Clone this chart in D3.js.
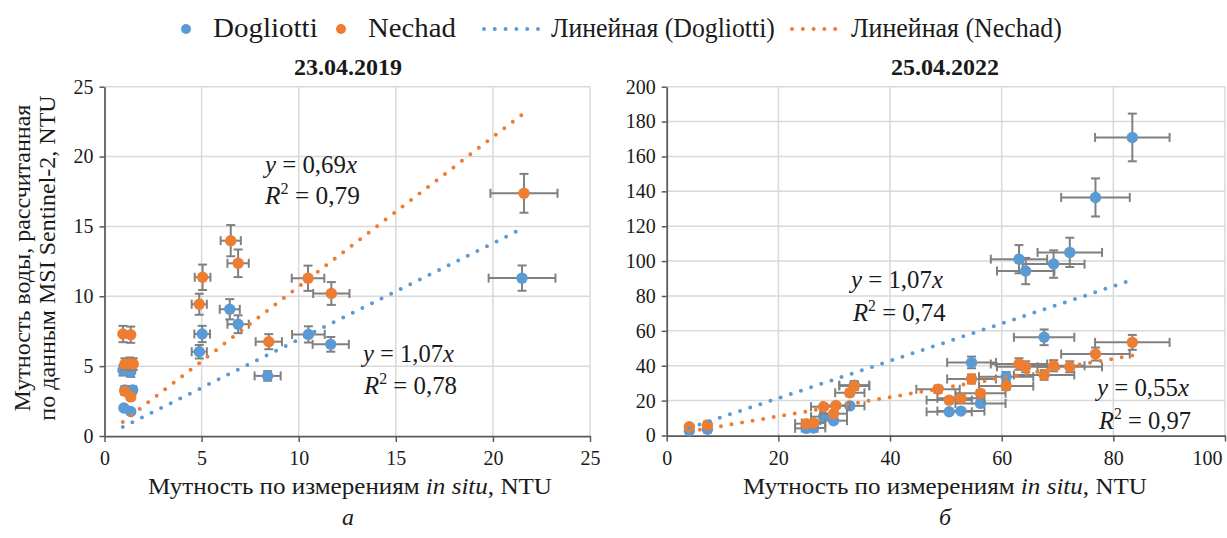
<!DOCTYPE html>
<html>
<head>
<meta charset="utf-8">
<script src="https://cdn.jsdelivr.net/npm/d3@7"></script>
</head>
<body style="margin:0;background:#fff">
<svg id="chart" width="1227" height="538" style="display:block"></svg>
<script>
// ---------- data ----------
const seriesNames = ["Dogliotti", "Nechad"];
const trendNames = ["Линейная (Dogliotti)", "Линейная (Nechad)"];
const seriesColors = ["#5b9bd5", "#ed7d31"];

// 23.04.2019 — turbidity in situ (x) vs. MSI Sentinel-2 (y), NTU
const aDogX = [0.95, 1.35, 1.05, 1.25, 1.45, 1.0, 1.35, 4.88, 5.03, 6.45, 6.88, 8.4, 10.5, 11.65, 21.5];
const aDogY = [4.7, 4.6, 3.3, 3.25, 3.3, 2.0, 1.75, 6.03, 7.3, 9.07, 8.0, 4.3, 7.27, 6.56, 11.3];
const aNechX = [0.95, 1.35, 1.05, 1.3, 1.48, 1.05, 1.35, 4.88, 5.05, 6.5, 6.88, 8.46, 10.48, 11.68, 21.6];
const aNechY = [7.3, 7.25, 5.15, 5.2, 5.15, 3.2, 2.8, 9.43, 11.36, 13.98, 12.36, 6.75, 11.29, 10.2, 17.37];
const aSlopes = [0.69, 1.07];
const aR2 = [0.79, 0.78];
const aTrendRange = [0.94, 21.5];
const aXTicks = [0, 5, 10, 15, 20, 25];
const aYTicks = [0, 5, 10, 15, 20, 25];

// 25.04.2022
const bDogX = [4.05, 7.3, 25.0, 26.3, 28.1, 29.9, 32.8, 33.6, 50.6, 52.7, 54.6, 56.2, 60.8, 63.1, 64.3, 67.6, 69.3, 72.2, 76.8, 83.4];
const bDogY = [2.75, 3.6, 4.1, 4.3, 10.8, 8.5, 17.0, 28.9, 13.6, 14.0, 41.9, 18.4, 33.7, 101.1, 94.3, 56.3, 98.3, 105.0, 136.5, 170.9];
const bNechX = [4.05, 7.3, 25.0, 26.3, 28.1, 29.9, 30.3, 32.8, 33.6, 48.6, 50.6, 52.7, 54.6, 56.2, 60.8, 63.1, 64.3, 67.6, 69.3, 72.2, 76.8, 83.4];
const bNechY = [5.0, 6.0, 6.8, 7.2, 16.5, 12.5, 17.2, 24.5, 28.4, 26.5, 20.3, 21.3, 32.4, 24.2, 28.4, 41.0, 39.4, 34.7, 40.0, 39.4, 46.7, 53.4];
const bSlopes = [1.07, 0.55];
const bR2 = [0.74, 0.97];
const bTrendRange = [4.05, 83.4];
const bXTicks = [0, 20, 40, 60, 80, 100];
const bYTicks = [0, 20, 40, 60, 80, 100, 120, 140, 160, 180, 200];

// error bars are a fixed percentage of each value
const errPct = 0.08;

const panelTitles = ["23.04.2019", "25.04.2022"];
const panelLetters = ["а", "б"];
const xTitle = "Мутность по измерениям ";
const yTitleLines = ["Мутность воды, рассчитанная", "по данным MSI Sentinel-2, NTU"];

// ---------- drawing ----------
const FONT = '"Liberation Serif", "Tinos", "Times New Roman"';
const svg = d3.select("#chart");
const fmt = v => d3.format(".2f")(v).replace(".", ",");
const GRID = "#d9d9d9", AXIS = "#595959", ERR = "#808080", INK = "#1a1a1a";

function addText(parent, x, y, size) {
  return parent.append("text").attr("x", x).attr("y", y)
    .style("font-family", FONT).style("font-size", size + "px").style("fill", INK);
}
// stretch or squeeze a text horizontally (about its anchor) to a given width
function fitWidth(sel, target) {
  const w = sel.node().getBBox().width;
  const k = target / w;
  const x0 = +sel.attr("x");
  sel.attr("transform", `translate(${x0 * (1 - k)},0) scale(${k},1)`);
  return k;
}

function drawPanel(cfg) {
  const x = d3.scaleLinear().domain(cfg.xDomain).range(cfg.xRange);
  const y = d3.scaleLinear().domain(cfg.yDomain).range(cfg.yRange);
  const g = svg.append("g");

  // grid
  g.append("g").selectAll("line").data(cfg.xTicks.filter(t => t > 0)).join("line")
    .attr("x1", d => x(d)).attr("x2", d => x(d))
    .attr("y1", y.range()[0]).attr("y2", y.range()[1])
    .attr("stroke", GRID).attr("stroke-width", 1.5);
  g.append("g").selectAll("line").data(cfg.yTicks.filter(t => t > 0)).join("line")
    .attr("x1", x.range()[0]).attr("x2", x.range()[1])
    .attr("y1", d => y(d)).attr("y2", d => y(d))
    .attr("stroke", GRID).attr("stroke-width", 1.5);

  // axes
  const xa = g.append("g").attr("transform", `translate(0,${y.range()[0]})`)
    .call(d3.axisBottom(x).tickValues(cfg.xTicks).tickSize(6).tickPadding(9).tickSizeOuter(0));
  const ya = g.append("g").attr("transform", `translate(${x.range()[0]},0)`)
    .call(d3.axisLeft(y).tickValues(cfg.yTicks).tickSize(5).tickPadding(6).tickSizeOuter(0));
  [xa, ya].forEach(a => {
    a.select(".domain").attr("stroke", AXIS).attr("stroke-width", 1.75);
    a.selectAll(".tick line").attr("stroke", AXIS).attr("stroke-width", 1.5);
    a.selectAll(".tick text").style("font-family", FONT).style("font-size", "20px").style("fill", INK);
  });
  if (cfg.lastXLabelShift) {
    xa.selectAll(".tick text").filter(d => d === cfg.xTicks[cfg.xTicks.length - 1])
      .attr("text-anchor", "end").attr("dx", cfg.lastXLabelShift);
  }

  // series: error bars then markers
  cfg.series.forEach((s, i) => {
    const pts = s.xs.map((v, k) => ({ x: v, y: s.ys[k] }));
    const eg = g.append("g").attr("stroke", ERR).attr("stroke-width", 2).attr("fill", "none");
    const cap = 4.5;
    pts.forEach(p => {
      const ex = p.x * errPct, ey = p.y * errPct;
      const px = x(p.x), py = y(p.y);
      const x0 = x(p.x - ex), x1 = x(p.x + ex), y0 = y(p.y - ey), y1 = y(p.y + ey);
      eg.append("line").attr("x1", x0).attr("x2", x1).attr("y1", py).attr("y2", py);
      eg.append("line").attr("x1", x0).attr("x2", x0).attr("y1", py - cap).attr("y2", py + cap);
      eg.append("line").attr("x1", x1).attr("x2", x1).attr("y1", py - cap).attr("y2", py + cap);
      eg.append("line").attr("x1", px).attr("x2", px).attr("y1", y0).attr("y2", y1);
      eg.append("line").attr("x1", px - cap).attr("x2", px + cap).attr("y1", y0).attr("y2", y0);
      eg.append("line").attr("x1", px - cap).attr("x2", px + cap).attr("y1", y1).attr("y2", y1);
    });
    g.append("g").selectAll("circle").data(pts).join("circle")
      .attr("cx", d => x(d.x)).attr("cy", d => y(d.y)).attr("r", 5.7)
      .attr("fill", seriesColors[i]);
  });

  // linear trend lines through the origin
  const line = d3.line().x(d => x(d[0])).y(d => y(d[1]));
  cfg.slopes.forEach((k, i) => {
    g.append("path")
      .datum(cfg.trendRange.map(v => [v, k * v]))
      .attr("d", line)
      .attr("fill", "none").attr("stroke", seriesColors[i])
      .attr("stroke-width", 4).attr("stroke-linecap", "round")
      .attr("stroke-dasharray", "0 10.7");
  });

  // trend equations
  cfg.slopes.forEach((k, i) => {
    const pos = cfg.eqPos[i];
    const t1 = addText(g, pos[0], pos[1], 25);
    t1.append("tspan").style("font-style", "italic").text("y");
    t1.append("tspan").text(" = " + fmt(k));
    t1.append("tspan").style("font-style", "italic").text("x");
    fitWidth(t1, pos[4]);
    const t2 = addText(g, pos[2], pos[3], 25);
    t2.append("tspan").style("font-style", "italic").text("R");
    t2.append("tspan").style("font-size", "16px").attr("dy", -10).text("2");
    t2.append("tspan").attr("dy", 10).text(" = " + fmt(cfg.r2[i]));
    fitWidth(t2, pos[5]);
  });

  // title, axis title, panel letter
  addText(g, cfg.titleX, 75, 24).attr("text-anchor", "middle")
    .style("font-weight", "bold").text(cfg.title);
  const xt = addText(g, cfg.xTitleX, 494, 24).attr("text-anchor", "middle");
  xt.append("tspan").text(xTitle);
  xt.append("tspan").style("font-style", "italic").text("in situ");
  xt.append("tspan").text(", NTU");
  fitWidth(xt, 404);
  addText(g, cfg.titleX, 525, 24).attr("text-anchor", "middle")
    .style("font-style", "italic").text(cfg.letter);
}

drawPanel({
  xDomain: [0, 25], xRange: [104.5, 590],
  yDomain: [0, 25], yRange: [436, 86.7],
  xTicks: aXTicks, yTicks: aYTicks,
  series: [{ xs: aDogX, ys: aDogY }, { xs: aNechX, ys: aNechY }],
  slopes: aSlopes, r2: aR2, trendRange: aTrendRange,
  eqPos: [[265, 173, 265, 204, 95, 96], [363, 362, 364, 394, 94, 94]],
  title: panelTitles[0], titleX: 348, xTitleX: 350, letter: panelLetters[0]
});
drawPanel({
  xDomain: [0, 100], xRange: [666.7, 1225],
  yDomain: [0, 200], yRange: [435.5, 86.7],
  xTicks: bXTicks, yTicks: bYTicks,
  series: [{ xs: bDogX, ys: bDogY }, { xs: bNechX, ys: bNechY }],
  slopes: bSlopes, r2: bR2, trendRange: bTrendRange,
  eqPos: [[851, 288, 853, 321, 95, 94], [1097, 396, 1099, 429, 95, 93]],
  title: panelTitles[1], titleX: 945, xTitleX: 945, letter: panelLetters[1],
  lastXLabelShift: -3
});

// shared y-axis title
const yt = svg.append("g").attr("transform", "translate(0,258) rotate(-90)");
addText(yt, 0, 30, 24).attr("text-anchor", "middle").text(yTitleLines[0]);
addText(yt, 0, 55, 24).attr("text-anchor", "middle").text(yTitleLines[1]);

// legend
const lg = svg.append("g");
const legendMarkX = [186, 341];
const legendTextX = [213, 368];
const legendTextW = [105, 88];
seriesNames.forEach((n, i) => {
  lg.append("circle").attr("cx", legendMarkX[i]).attr("cy", 29).attr("r", 5).attr("fill", seriesColors[i]);
  fitWidth(addText(lg, legendTextX[i], 37, 28).text(n), legendTextW[i]);
});
const legendLineX = [[484, 538], [792, 846]];
const legendTrendTextX = [551, 851];
const legendTrendTextW = [224, 211];
trendNames.forEach((n, i) => {
  lg.append("line").attr("x1", legendLineX[i][0]).attr("x2", legendLineX[i][1])
    .attr("y1", 29).attr("y2", 29)
    .attr("stroke", seriesColors[i]).attr("stroke-width", 4).attr("stroke-linecap", "round")
    .attr("stroke-dasharray", "0 10.8");
  fitWidth(addText(lg, legendTrendTextX[i], 37, 28).text(n), legendTrendTextW[i]);
});
</script>
</body>
</html>
